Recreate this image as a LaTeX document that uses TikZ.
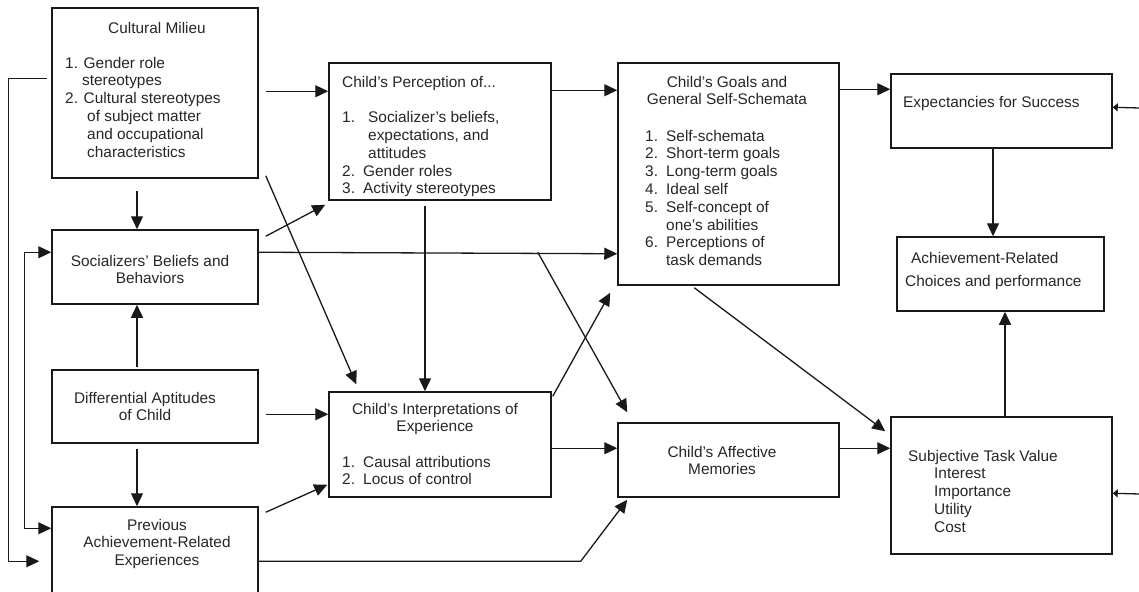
\documentclass[tikz,border=0pt]{standalone}
\usepackage{fontspec}
\setmainfont{Liberation Sans}
\usetikzlibrary{arrows.meta,calc}
\begin{document}
\begin{tikzpicture}[x=1pt,y=-1pt,
  bx/.style 2 args={draw=black!90, line width=1.5pt, inner sep=0pt, minimum width=#1pt, minimum height=#2pt},
  txt/.style={inner sep=0pt, text=black!85, font=\fontsize{15.4}{17.8}\selectfont},
  arr/.style={draw=black!90, line width=1.3pt, -{Triangle[length=13pt,width=12pt]}},
  arrb/.style={draw=black!90, line width=1.3pt, {Triangle[length=13pt,width=12pt]}-{Triangle[length=13pt,width=12pt]}},
  sarr/.style={draw=black!90, line width=1.3pt, -{Triangle[length=5pt,width=8pt]}}]
\useasboundingbox (0,0) rectangle (1139,591);
% boxes
\node[bx={206}{170}] (A) at (155,93) {};
\node[bx={206}{74}] (B) at (155,267) {};
\node[bx={206}{73}] (C) at (155,406.5) {};
\node[bx={206}{88}] (D) at (155,551) {};
\node[bx={222}{137}] (E) at (440,131.5) {};
\node[bx={222}{105}] (F) at (440,444.5) {};
\node[bx={221}{222}] (G) at (728.5,174) {};
\node[bx={221}{74}] (H) at (728.5,460) {};
\node[bx={221}{74}] (I) at (1001.5,111) {};
\node[bx={207}{74}] (J) at (1000.5,274) {};
\node[bx={221}{137}] (K) at (1001.5,485.5) {};
% texts
\node[txt, anchor=base] (At) at (157,34) {Cultural Milieu};
\node[txt, anchor=north west, align=left] (Al) at (65,55.5) {\strut 1. Gender role\\\strut\hspace*{17pt}stereotypes\\\strut 2. Cultural stereotypes\\\strut\hspace*{22pt}of subject matter\\\strut\hspace*{22pt}and occupational\\\strut\hspace*{22pt}characteristics};
\node[txt, anchor=north, align=center] (Bt) at (150,253.5) {\strut Socializers' Beliefs and\\\strut Behaviors};
\node[txt, anchor=north, align=center] (Ct) at (145,390.5) {\strut Differential Aptitudes\\\strut of Child};
\node[txt, anchor=north, align=center] (Dt) at (157,517.5) {\strut Previous\\\strut Achievement-Related\\\strut Experiences};
\node[txt, anchor=north west, align=left] (Et) at (342,74.5) {\strut Child's Perception of...\\\strut\\\strut\makebox[26pt][l]{1.}Socializer's beliefs,\\\strut\hspace*{26pt}expectations, and\\\strut\hspace*{26pt}attitudes\\\strut\makebox[21pt][l]{2.}Gender roles\\\strut\makebox[21pt][l]{3.}Activity stereotypes};
\node[txt, anchor=north, align=center] (Ft) at (435,401.5) {\strut Child's Interpretations of\\\strut Experience};
\node[txt, anchor=north west, align=left] (Fl) at (342,454.5) {\strut\makebox[21pt][l]{1.}Causal attributions\\\strut\makebox[21pt][l]{2.}Locus of control};
\node[txt, anchor=north, align=center] (Gt) at (727,74.5) {\strut Child's Goals and\\\strut General Self-Schemata};
\node[txt, anchor=north west, align=left] (Gl) at (645,128.5) {\strut\makebox[21pt][l]{1.}Self-schemata\\\strut\makebox[21pt][l]{2.}Short-term goals\\\strut\makebox[21pt][l]{3.}Long-term goals\\\strut\makebox[21pt][l]{4.}Ideal self\\\strut\makebox[21pt][l]{5.}Self-concept of\\\strut\hspace*{21pt}one's abilities\\\strut\makebox[21pt][l]{6.}Perceptions of\\\strut\hspace*{21pt}task demands};
\node[txt, anchor=north, align=center] (Ht) at (722,444.5) {\strut Child's Affective\\\strut Memories};
\node[txt, anchor=base west] (It) at (903,107) {Expectancies for Success};
\node[txt, anchor=north west, align=left] (Jt) at (905,250.5) {\strut\hspace*{6pt}Achievement-Related\\[6pt]\strut Choices and performance};
\node[txt, anchor=north west, align=left] (Kt) at (908,448.5) {\strut Subjective Task Value\\\strut\hspace*{26pt}Interest\\\strut\hspace*{26pt}Importance\\\strut\hspace*{26pt}Utility\\\strut\hspace*{26pt}Cost};
% helper coordinates
\coordinate (bh) at ($(B.north east)+(279,23)$);
\coordinate (dh) at ($(D.north east)+(322,55)$);
\coordinate (rI) at (1139,108);
\coordinate (rK) at (1139,494);
% connectors
\draw[arr] ($(A.north east)+(7,84)$) -- ($(E.north west)+(0,29)$);
\draw[arr] ($(A.south)+(-18,12)$) -- ($(B.north)+(-18,0)$);
\draw[arr] ($(A.south east)+(7,-3)$) -- ($(F.north west)+(28,-7)$);
\draw[arr] ($(B.north east)+(7,7)$) -- ($(E.south west)+(-3,4)$);
\draw[arr] ($(B.north east)+(0,23)$) -- ($(G.south west)+(0,-32)$);
\draw[arr] (bh) -- ($(H.north west)+(10,-10)$);
\draw[arr] ($(C.north)+(-18,-2)$) -- ($(B.south)+(-18,0)$);
\draw[arr] ($(C.south)+(-18,5)$) -- ($(D.north)+(-18,0)$);
\draw[arr] ($(C.north east)+(7,45)$) -- ($(F.north west)+(0,23)$);
\draw[arr] ($(D.north east)+(7,6)$) -- ($(F.south west)+(-1,-13)$);
\draw[arr] ($(D.north east)+(0,55)$) -- (dh) -- ($(H.south west)+(10,2)$);
\draw[arr] ($(A.north west)+(-4,71)$) -- ++(-39,0) |- ($(D.north west)+(-12,55)$);
\draw[arrb] ($(B.north west)+(0,23)$) -- ++(-27,0) |- ($(D.north west)+(0,22)$);
\draw[arr] ($(E.south)+(-15,5)$) -- ($(F.north)+(-15,0)$);
\draw[arr] ($(E.north east)+(0,28)$) -- ($(G.north west)+(0,28)$);
\draw[arr] ($(F.north east)+(1,5)$) -- ($(G.south west)+(-7,7)$);
\draw[arr] ($(F.north east)+(0,57)$) -- ($(H.north west)+(0,26)$);
\draw[arr] ($(G.south west)+(77,2)$) -- ($(K.north west)+(-5,15)$);
\draw[arr] ($(G.north east)+(0,27)$) -- ($(I.north west)+(0,16)$);
\draw[arr] ($(H.north east)+(0,26)$) -- ($(K.north west)+(0,32)$);
\draw[arr] ($(I.south)+(-8.5,0)$) -- ($(J.north)+(-7.5,0)$);
\draw[arr] ($(K.north)+(3.5,0)$) -- ($(J.south)+(4.5,0)$);
\draw[sarr] (rI) -- ($(I.north east)+(0,34)$);
\draw[sarr] (rK) -- ($(K.north east)+(0,77)$);
\end{tikzpicture}
\end{document}
